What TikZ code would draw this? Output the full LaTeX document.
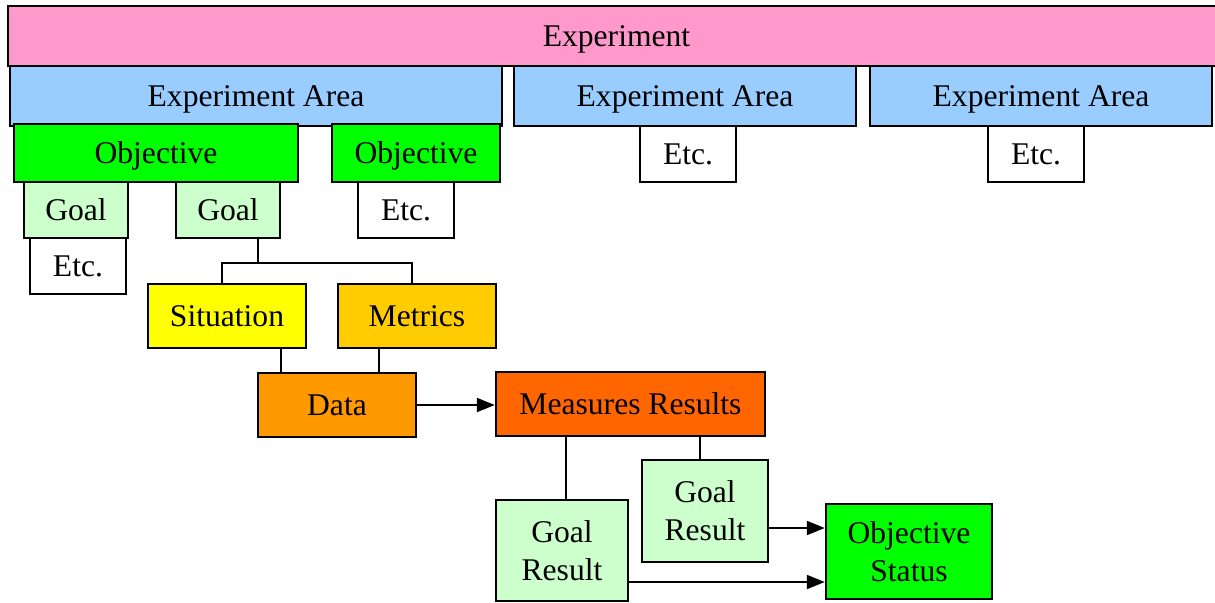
\documentclass[tikz,border=0pt]{standalone}
\usepackage{fontspec}
\setmainfont{Liberation Serif}
\usetikzlibrary{positioning, arrows.meta}
\definecolor{pinkfill}{HTML}{FF99CC}
\definecolor{areafill}{HTML}{99CCFF}
\definecolor{objfill}{HTML}{00FF00}
\definecolor{goalfill}{HTML}{CCFFCC}
\definecolor{sitfill}{HTML}{FFFF00}
\definecolor{metfill}{HTML}{FFCC00}
\definecolor{datafill}{HTML}{FF9900}
\definecolor{mrfill}{HTML}{FF6600}

\begin{document}
\begin{tikzpicture}[
                x=0.5pt, y=-0.5pt,
                stackbox/.style={rectangle, draw, line width=1.2pt, inner sep=0pt,
                    align=center, font=\fontsize{15.8}{19}\selectfont},
                box/.style={stackbox, text height=12pt, text depth=2pt},
                etcbox/.style={box, fill=white, minimum width=48pt, minimum height=28pt},
                link/.style={line width=1pt},
                edge/.style={-{Triangle[length=9pt, width=7pt]}, line width=1pt},
            ]
            \useasboundingbox (0,0) rectangle (1215,602);

            % Top levels
            \node[box, fill=pinkfill, minimum width=608.5pt, minimum height=30pt] (exp) at (616.5,36) {Experiment};
            \node[box, fill=areafill, minimum width=246pt, minimum height=30pt] (area1) at (256,96) {Experiment Area};
            \node[box, fill=areafill, minimum width=171pt, minimum height=30pt] (area2) at (685,96) {Experiment Area};
            \node[box, fill=areafill, minimum width=171pt, minimum height=30pt] (area3) at (1041,96) {Experiment Area};
            \node[etcbox] (etc2) at (688,154) {Etc.};
            \node[etcbox] (etc3) at (1036,154) {Etc.};

            % Objectives and goals
            \node[box, fill=objfill, minimum width=142pt, minimum height=29pt] (obj1) at (156,153) {Objective};
            \node[box, fill=objfill, minimum width=84pt, minimum height=29pt] (obj2) at (416,153) {Objective};
            \node[box, fill=goalfill, minimum width=52pt, minimum height=28pt] (goal1) at (76,210) {Goal};
            \node[box, fill=goalfill, minimum width=52pt, minimum height=28pt] (goal2) at (228,210) {Goal};
            \node[etcbox] (etcobj) at (406,210) {Etc.};
            \node[etcbox] (etcgoal) at (78,266) {Etc.};

            % Goal details
            \node[box, fill=sitfill, minimum width=79pt, minimum height=32pt] (sit) at (227,316) {Situation};
            \node[box, fill=metfill, minimum width=79pt, minimum height=32pt] (met) at (417,316) {Metrics};
            \node[box, fill=datafill, minimum width=79pt, minimum height=32pt] (data) at (337,405) {Data};
            \node[box, fill=mrfill, minimum width=134.5pt, minimum height=32pt] (mr) at (630.5,404) {Measures Results};

            % Results
            \node[stackbox, fill=goalfill, minimum width=63pt, minimum height=51pt] (gr2) at (705,511) {Goal\\Result};
            \node[stackbox, fill=goalfill, minimum width=66pt, minimum height=50.5pt] (gr1) at (562,550.5) {Goal\\Result};
            \node[stackbox, fill=objfill, minimum width=83pt, minimum height=47.5pt] (os) at (909,551.5) {Objective\\Status};

            % Tree connections
            \draw[link] ([xshift=15pt]goal2.south) -- ++(0,24) coordinate (gj);
            \draw[link] ([xshift=-2.5pt]sit.north) |- (gj) -| ([xshift=-2.5pt]met.north);
            \draw[link] ([xshift=27pt]sit.south) -- ([xshift=27pt]sit.south |- data.north);
            \draw[link] ([xshift=-19pt]met.south) -- ([xshift=-19pt]met.south |- data.north);
            \draw[link] ([xshift=2pt]gr1.north |- mr.south) -- ([xshift=2pt]gr1.north);
            \draw[link] ([xshift=-2.5pt]gr2.north |- mr.south) -- ([xshift=-2.5pt]gr2.north);

            % Arrows
            \draw[edge] (data.east) -- (data.east -| mr.west);
            \draw[edge] ([yshift=-8.5pt]gr2.east) -- ([yshift=-8.5pt]gr2.east -| os.west);
            \draw[edge] ([yshift=-15.75pt]gr1.east) -- ([yshift=-15.75pt]gr1.east -| os.west);

            \end{tikzpicture}
\end{document}
